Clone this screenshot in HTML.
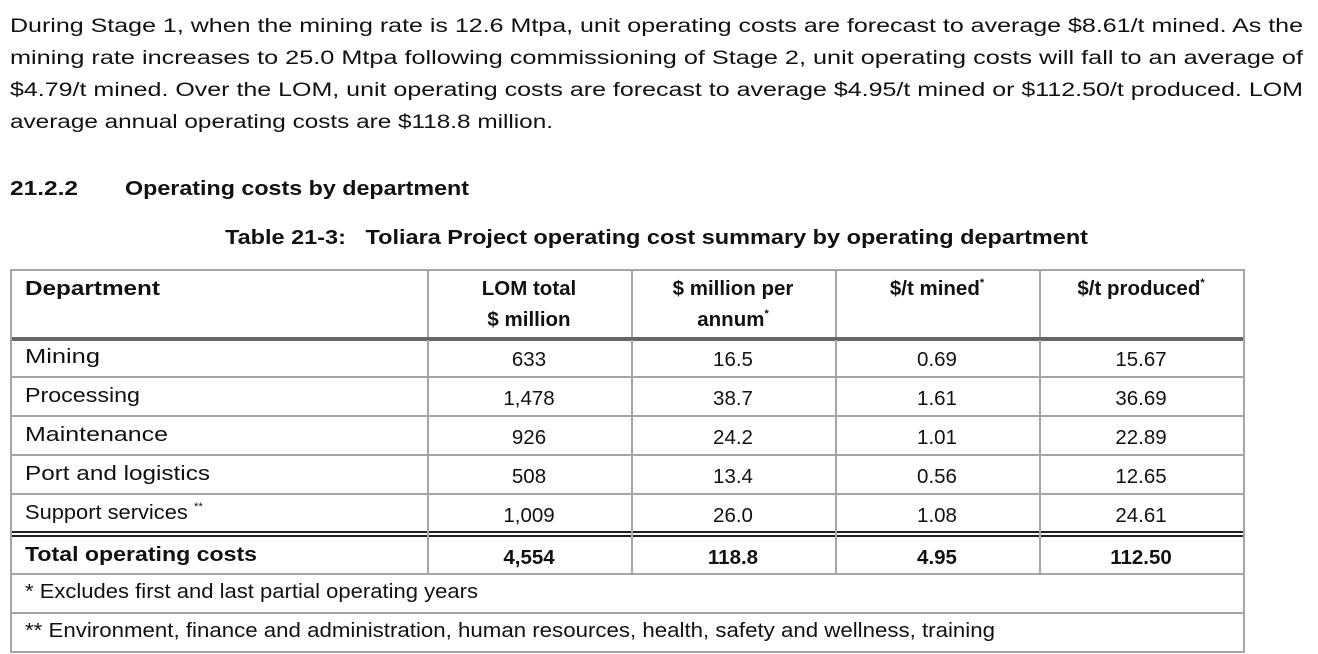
<!DOCTYPE html>
<html><head><meta charset="utf-8">
<style>
html,body{margin:0;padding:0;background:#fff;}
body{width:1318px;height:654px;position:relative;overflow:hidden;font-family:"Liberation Sans",Arial,sans-serif;color:#111;}
.t{position:absolute;white-space:nowrap;font-size:19px;line-height:22px;transform-origin:0 50%;}
#tbl .t{font-size:20.5px;}
.b{font-weight:bold;}
.hl{position:absolute;height:2px;background:#a6a6a6;}
.vl{position:absolute;width:2px;background:#a6a6a6;}
sup{font-size:11px;vertical-align:top;line-height:10px;}
</style></head><body>
<div>
<div class="t fit" data-w="1293" style="left:10px;top:16px;">During Stage 1, when the mining rate is 12.6 Mtpa, unit operating costs are forecast to average $8.61/t mined. As the</div>
<div class="t fit" data-w="1293" style="left:10px;top:48px;">mining rate increases to 25.0 Mtpa following commissioning of Stage 2, unit operating costs will fall to an average of</div>
<div class="t fit" data-w="1293" style="left:10px;top:80px;">$4.79/t mined. Over the LOM, unit operating costs are forecast to average $4.95/t mined or $112.50/t produced. LOM</div>
<div class="t fit" data-w="543" style="left:10px;top:112px;">average annual operating costs are $118.8 million.</div>
</div>
<div class="t b fit" data-w="68" style="left:10px;top:178px;font-size:20px;">21.2.2</div>
<div class="t b fit" data-w="344" style="left:125px;top:178px;font-size:20px;">Operating costs by department</div>
<div class="t b fit" data-w="863" style="left:225px;top:227px;font-size:20px;">Table 21-3:&nbsp;&nbsp;&nbsp;Toliara Project operating cost summary by operating department</div>

<div id="tbl"></div>

<script>
const rows=[["Mining","633","16.5","0.69","15.67"],["Processing","1,478","38.7","1.61","36.69"],["Maintenance","926","24.2","1.01","22.89"],["Port and logistics","508","13.4","0.56","12.65"],["Support services","1,009","26.0","1.08","24.61"]];
const totals=["Total operating costs","4,554","118.8","4.95","112.50"];
const labelW=[75,115,143,185,178];
const colX=[10,427,631,835,1039,1243];
const tbl=document.getElementById('tbl');
function line(cls,x,y,w,h,color){const d=document.createElement('div');d.className=cls;d.style.left=x+'px';d.style.top=y+'px';if(w)d.style.width=w+'px';if(h)d.style.height=h+'px';if(color)d.style.background=color;


tbl.appendChild(d);}
function txt(s,x,cy,opts){const d=document.createElement('div');d.className='t'+(opts.b?' b':'')+(opts.fw?' fit':'');d.innerHTML=s;d.style.top=(cy-11)+'px';
if(opts.fw)d.dataset.w=opts.fw;
if(opts.center){d.style.left=x+'px';d.style.width=opts.w+'px';d.style.textAlign='center';}else d.style.left=x+'px';


tbl.appendChild(d);}
line('hl',10,269,1235,2);
line('hl',10,337,1235,4,'#666');
for(let i=1;i<5;i++)line('hl',10,337+39*i,1235,2);
line('hl',10,531,1235,2,'#222');line('hl',10,535,1235,2,'#222');
line('hl',10,573,1235,2);line('hl',10,612,1235,2);line('hl',10,651,1235,2);
line('vl',10,269,0,384);line('vl',1243,269,0,384);
for(let i=1;i<5;i++){line('vl',colX[i],269,0,68);line('vl',colX[i],340,0,234);}
txt('Department',25,289,{b:1,name:'header-department',fw:135});
const hdr=[['LOM total','$ million'],['$ million per','annum<sup>*</sup>'],['$/t mined<sup>*</sup>',''],['$/t produced<sup>*</sup>','']];
hdr.forEach((h,i)=>{txt(h[0],colX[i+1],289,{b:1,center:1,w:204,name:'header-col'});if(h[1])txt(h[1],colX[i+1],320,{b:1,center:1,w:204,name:'header-col'});});
rows.forEach((r,ri)=>{const cy=357+39*ri;
txt(r[0]+(ri==4?' <sup>**</sup>':''),25,cy,{name:'row-label',fw:labelW[ri]});
for(let c=1;c<5;c++)txt(r[c],colX[c],cy+3,{center:1,w:204,name:'row-value'});});
txt(totals[0],25,555,{b:1,name:'total-label',fw:232});
for(let c=1;c<5;c++)txt(totals[c],colX[c],558,{b:1,center:1,w:204,name:'total-value'});
txt('* Excludes first and last partial operating years',25,592,{name:'footnote-1',fw:453});
txt('** Environment, finance and administration, human resources, health, safety and wellness, training',25,631,{name:'footnote-2',fw:970});
document.querySelectorAll('.fit').forEach(e=>{const w=+e.dataset.w;const r=e.getBoundingClientRect().width;if(r>0)e.style.transform='scaleX('+(w/r)+')';});
</script>
</body></html>
